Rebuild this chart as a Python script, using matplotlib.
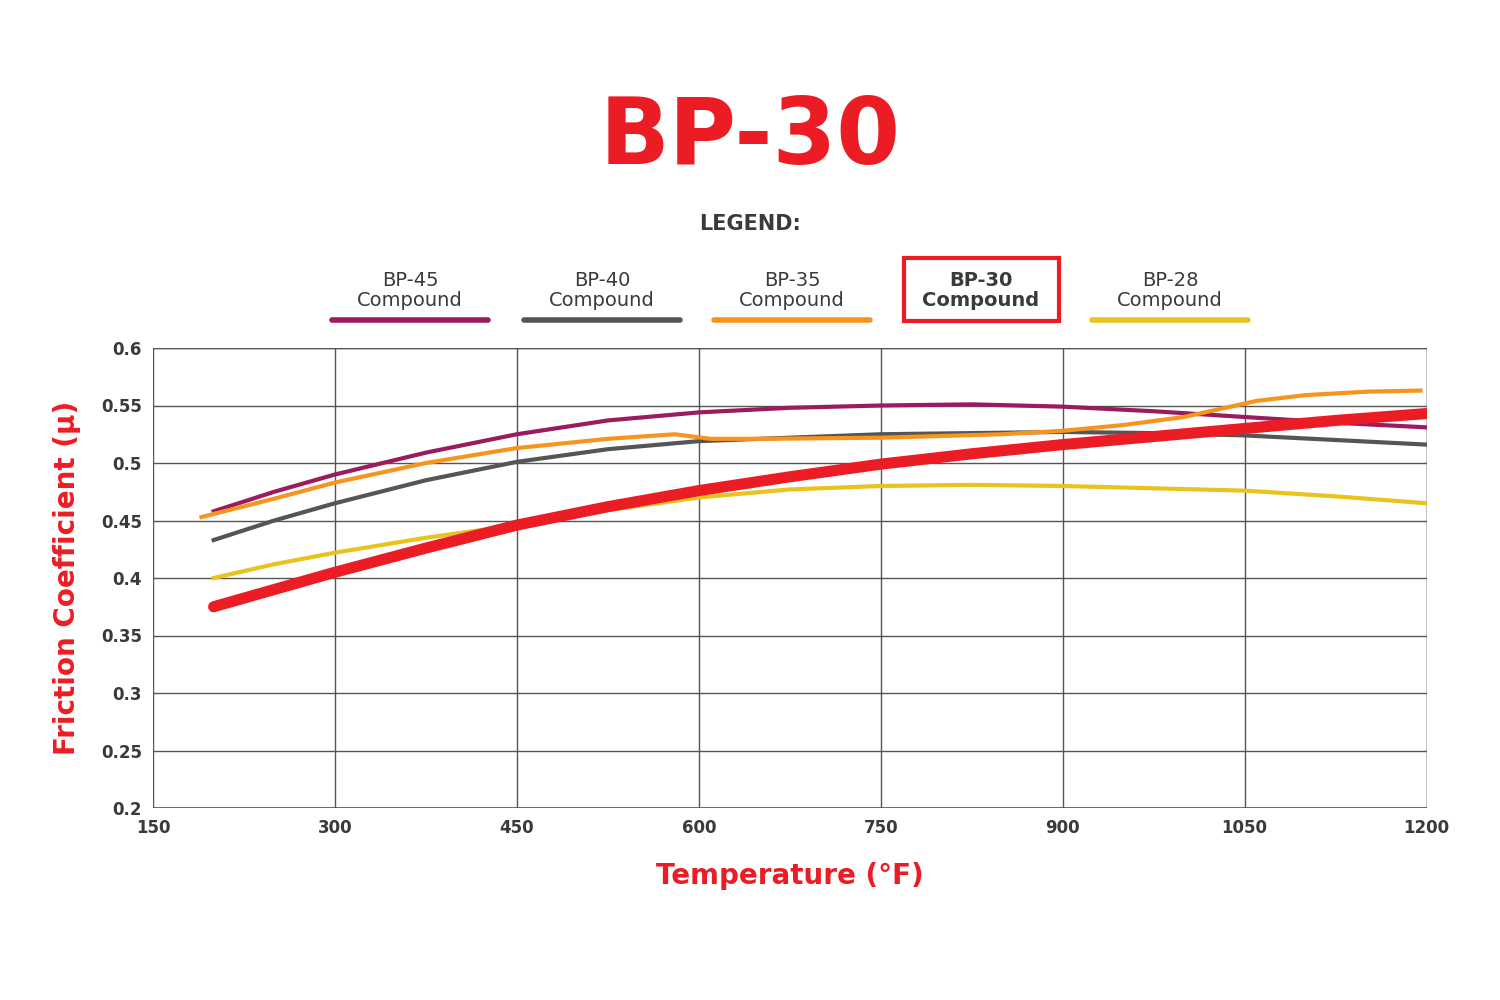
import matplotlib
matplotlib.use("Agg")
import matplotlib.pyplot as plt
from matplotlib.patches import Rectangle

bp45_x = [200, 250, 300, 375, 450, 525, 600, 675, 750, 825, 900, 975, 1050, 1125, 1200]
bp45_y = [0.458, 0.475, 0.490, 0.509, 0.525, 0.537, 0.544, 0.548, 0.550, 0.551, 0.549, 0.545, 0.540, 0.535, 0.531]
bp40_x = [200, 250, 300, 375, 450, 525, 600, 675, 750, 825, 900, 975, 1050, 1125, 1200]
bp40_y = [0.433, 0.450, 0.465, 0.485, 0.501, 0.512, 0.519, 0.522, 0.525, 0.526, 0.527, 0.526, 0.524, 0.520, 0.516]
bp35_x = [190, 250, 300, 375, 450, 525, 580, 610, 650, 750, 850, 900, 950, 1000, 1030, 1060, 1100, 1150, 1195]
bp35_y = [0.453, 0.469, 0.483, 0.500, 0.513, 0.521, 0.525, 0.521, 0.521, 0.522, 0.525, 0.528, 0.533, 0.540, 0.547, 0.554, 0.559, 0.562, 0.563]
bp30_x = [200, 250, 300, 375, 450, 525, 600, 675, 750, 825, 900, 975, 1050, 1125, 1200]
bp30_y = [0.375, 0.390, 0.405, 0.426, 0.446, 0.462, 0.476, 0.488, 0.499, 0.508, 0.516, 0.523, 0.530, 0.537, 0.543]
bp28_x = [200, 250, 300, 375, 450, 525, 600, 675, 750, 825, 900, 975, 1050, 1125, 1200]
bp28_y = [0.400, 0.412, 0.422, 0.435, 0.446, 0.459, 0.470, 0.477, 0.480, 0.481, 0.480, 0.478, 0.476, 0.471, 0.465]

xticks = [150, 300, 450, 600, 750, 900, 1050, 1200]
yticks = [0.2, 0.25, 0.3, 0.35, 0.4, 0.45, 0.5, 0.55, 0.6]
ylabels = ["0.2", "0.25", "0.3", "0.35", "0.4", "0.45", "0.5", "0.55", "0.6"]

RED = "#ec1c24"; PURPLE = "#9b1b5e"; GREY = "#555555"; ORANGE = "#f7941d"; YELLOW = "#e9c31d"
DARK = "#3a3a3a"

fig = plt.figure(figsize=(15, 10), dpi=100)
ax = fig.add_axes([0.102, 0.192, 0.849, 0.460])
ax.set_xlim(150, 1200); ax.set_ylim(0.2, 0.6)
ax.set_xticks(xticks); ax.set_yticks(yticks)
ax.set_xticklabels([str(v) for v in xticks], fontsize=12, fontweight="bold", color=DARK)
ax.set_yticklabels(ylabels, fontsize=12, fontweight="bold", color=DARK)
ax.grid(True, color="#555555", linewidth=1)
for s in ax.spines.values():
    s.set_visible(False)
ax.tick_params(length=0, pad=8)
ax.axhline(0.2, color="#555555", lw=1.2); ax.axvline(150, color="#555555", lw=1.2)
ax.axhline(0.6, color="#555555", lw=1); ax.axvline(1200, color="#555555", lw=1)

ax.plot(bp45_x, bp45_y, color=PURPLE, lw=3)
ax.plot(bp40_x, bp40_y, color=GREY, lw=3)
ax.plot(bp28_x, bp28_y, color=YELLOW, lw=3)
ax.plot(bp35_x, bp35_y, color=ORANGE, lw=3)
ax.plot(bp30_x, bp30_y, color=RED, lw=8, solid_capstyle="round")

ax.set_xlabel("Temperature (°F)", fontsize=20, fontweight="heavy", color=RED, labelpad=18)
ax.set_ylabel("Friction Coefficient (µ)", fontsize=20, fontweight="heavy", color=RED, labelpad=14)

fig.text(0.5, 0.862, "BP-30", ha="center", va="center", fontsize=66, fontweight="heavy", color=RED)
fig.text(0.5, 0.776, "LEGEND:", ha="center", va="center", fontsize=15, fontweight="bold", color=DARK)

items = [("BP-45", PURPLE, 410), ("BP-40", GREY, 602), ("BP-35", ORANGE, 792),
         ("BP-30", RED, 981), ("BP-28", YELLOW, 1170)]
for name, col, cx in items:
    bold = name == "BP-30"
    fx = cx / 1500
    fig.text(fx, 1 - 280 / 1000, name, ha="center", va="center", fontsize=14,
             fontweight="bold" if bold else "normal", color=DARK)
    fig.text(fx, 1 - 301 / 1000, "Compound", ha="center", va="center", fontsize=14,
             fontweight="bold" if bold else "normal", color=DARK)
    if bold:
        fig.patches.append(Rectangle((904 / 1500, 1 - 321 / 1000), 155 / 1500, 63 / 1000,
                                     transform=fig.transFigure, fill=False, edgecolor=RED, lw=3))
    else:
        fig.lines.append(plt.Line2D([(cx - 78) / 1500, (cx + 78) / 1500], [1 - 320 / 1000] * 2,
                                    transform=fig.transFigure, color=col, lw=4, solid_capstyle="round"))

fig.savefig("out.png", dpi=100, facecolor="white")
